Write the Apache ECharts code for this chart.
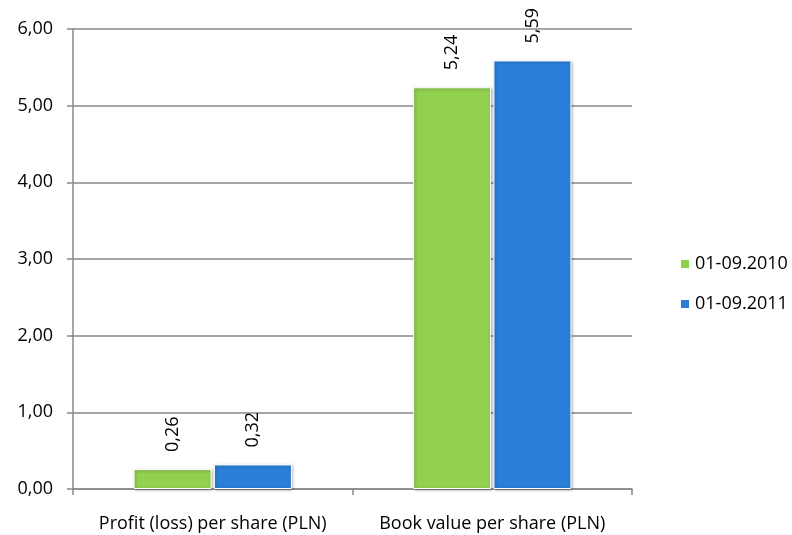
<!DOCTYPE html>
<html><head><meta charset="utf-8">
<script src="https://cdn.jsdelivr.net/npm/echarts@6/dist/echarts.min.js"></script>
<style>html,body{margin:0;padding:0;background:#fff}#c{width:792px;height:535px}</style>
</head><body><div id="c"></div>
<script>
const categories = ['Profit (loss) per share (PLN)', 'Book value per share (PLN)'];
const seriesNames = ['01-09.2010', '01-09.2011'];
const values2010 = [0.26, 5.24];
const values2011 = [0.32, 5.59];
const colors = ['#92D050', '#2A7FD8'];
const fmt = v => Number(v).toFixed(2).replace('.', ',');
const font = '"Open Sans", sans-serif';
const fs = 18;
const chart = echarts.init(document.getElementById('c'));
const mk = (name, data, color) => ({
  name, type: 'bar', data, barWidth: 78, barGap: '3%',
  itemStyle: { color, borderColor: '#fff', borderWidth: 1, shadowBlur: 3, shadowColor: 'rgba(0,0,0,0.35)', shadowOffsetX: 1, shadowOffsetY: 1 },
  label: { show: true, position: 'top', rotate: 90, distance: 17, align: 'left', verticalAlign: 'middle',
    formatter: p => fmt(p.value), color: '#000', fontSize: fs, fontFamily: font }
});
chart.setOption({
  animation: false,
  grid: { left: 73, right: 160, top: 29, bottom: 46 },
  legend: {
    orient: 'vertical', left: 674, top: 250, itemWidth: 10, itemHeight: 10, itemGap: 22,
    icon: 'rect', data: seriesNames,
    textStyle: { fontSize: fs, fontFamily: font, color: '#000' }
  },
  xAxis: {
    type: 'category', data: categories,
    axisLine: { lineStyle: { color: '#888', width: 1.5 } },
    axisTick: { show: true, length: 6, lineStyle: { color: '#888', width: 1.5 } },
    axisLabel: { color: '#000', fontSize: fs, fontFamily: font, margin: 26, interval: 0, hideOverlap: false }
  },
  yAxis: {
    type: 'value', min: 0, max: 6, interval: 1,
    axisLine: { show: true, lineStyle: { color: '#888', width: 1.5 } },
    axisTick: { show: true, length: 6, lineStyle: { color: '#888', width: 1.5 } },
    splitLine: { lineStyle: { color: '#888', width: 1.5 } },
    axisLabel: { color: '#000', fontSize: fs, fontFamily: font, margin: 20, formatter: fmt }
  },
  series: [mk(seriesNames[0], values2010, colors[0]), mk(seriesNames[1], values2011, colors[1])]
});
</script></body></html>
